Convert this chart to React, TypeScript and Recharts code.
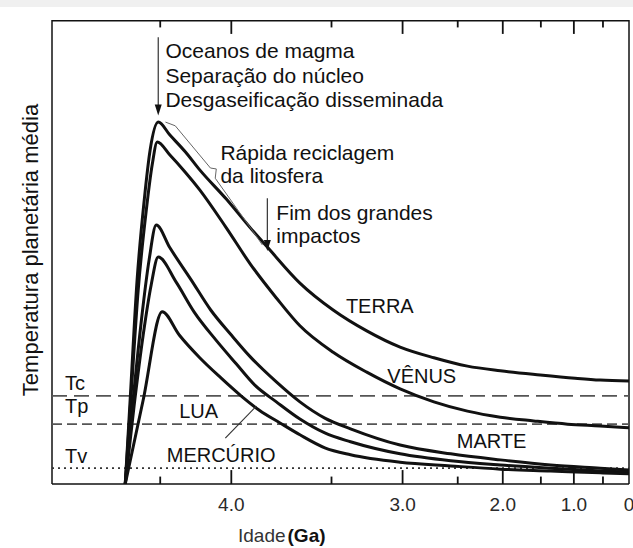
import { LineChart, Line, XAxis, YAxis, ReferenceLine, ReferenceDot } from "recharts";

const FONT = "'Liberation Sans', Arial, Helvetica, sans-serif";
const INK = "#111";
const DASH = "#555";

// o eixo de idade é logarítmico em (AGE_REF - idade)
const AGE_REF = 5;
const toT = (age: number) => AGE_REF - age;
const X_DOMAIN = [0.484, 5];
const Y_DOMAIN = [0, 100];

// idade (Ga) e temperatura relativa (0–100)
const terraAges = [4.349, 4.336, 4.317, 4.297, 4.28, 4.256, 4.22, 4.17, 4.12, 4.02, 3.92, 3.84, 3.68, 3.49, 3.27, 3.02, 2.73, 2.4, 2.03, 1.51, 0.98, 0.55, 0];
const terraTemps = [0, 18.1, 44.0, 61.2, 72.0, 78.0, 75.2, 71.6, 67.7, 61.4, 55.2, 50.9, 43.3, 37.5, 33.0, 29.5, 27.2, 25.4, 24.4, 23.5, 22.8, 22.4, 22.2];

const venusAges = [4.349, 4.336, 4.314, 4.291, 4.274, 4.259, 4.22, 4.17, 4.12, 4.02, 3.92, 3.8, 3.68, 3.49, 3.27, 3.02, 2.73, 2.4, 2.03, 1.6, 1.1, 0.55, 0];
const venusTemps = [0, 15.9, 41.8, 59.1, 68.8, 73.7, 70.9, 67.2, 63.4, 55.2, 47.4, 40.1, 34.1, 28.4, 24.1, 20.5, 17.7, 15.7, 14.4, 13.6, 12.9, 12.5, 12.1];

const marteAges = [4.349, 4.328, 4.305, 4.283, 4.262, 4.22, 4.15, 4.08, 4.0, 3.92, 3.8, 3.68, 3.54, 3.38, 3.02, 2.57, 2.03, 1.36, 0.55, 0];
const marteTemps = [0, 18.1, 35.3, 48.3, 55.8, 50.9, 44.0, 37.5, 32.1, 27.4, 22.0, 17.7, 14.2, 11.9, 8.4, 6.5, 5.2, 4.1, 3.4, 3.0];

const mercurioAges = [4.349, 4.325, 4.3, 4.277, 4.256, 4.2, 4.14, 4.06, 3.98, 3.9, 3.8, 3.68, 3.54, 3.38, 3.02, 2.57, 2.03, 1.36, 0.55, 0];
const mercurioTemps = [0, 17.0, 32.1, 42.9, 48.9, 43.5, 37.1, 31.0, 25.9, 21.3, 17.7, 14.0, 11.0, 9.1, 6.5, 5.0, 4.1, 3.4, 2.8, 2.6];

const luaAges = [4.349, 4.3, 4.244, 4.19, 4.12, 4.04, 3.96, 3.88, 3.78, 3.68, 3.54, 3.38, 3.02, 2.57, 2.03, 1.36, 0.55, 0];
const luaTemps = [0, 18.1, 37.1, 32.1, 27.2, 22.8, 19.0, 15.9, 13.1, 10.6, 7.8, 6.3, 4.7, 3.9, 3.2, 2.8, 2.4, 2.2];

const majorAges = [4, 3, 2, 1, 0];
const minorAges = [4.25, 3.5, 2.5, 1.5, 0.5];

const tempTc = 19.0;
const tempTp = 12.9;
const tempTv = 3.4;

// chave da "rápida reciclagem da litosfera"
const braceAges = [4.234, 4.203, 4.081, 4.059, 4.063, 3.893, 3.866];
const braceTemps = [78.0, 77.2, 68.1, 67.9, 65.9, 53.4, 51.5];

const series = [
  { name: "Terra", ages: terraAges, temps: terraTemps },
  { name: "Vênus", ages: venusAges, temps: venusTemps },
  { name: "Marte", ages: marteAges, temps: marteTemps },
  { name: "Mercúrio", ages: mercurioAges, temps: mercurioTemps },
  { name: "Lua", ages: luaAges, temps: luaTemps },
].map((s) => ({
  name: s.name,
  data: s.ages.map((a, i) => ({ t: toT(a), temp: s.temps[i] })),
}));

const notes = [
  { age: 4.234, temp: 91.8, lines: ["Oceanos de magma", "Separação do núcleo", "Desgaseificação disseminada"], gap: 24.5, size: 21 },
  { age: 4.043, temp: 69.8, lines: ["Rápida reciclagem", "da litosfera"], gap: 23, size: 21 },
  { age: 3.8, temp: 56.9, lines: ["Fim dos grandes", "impactos"], gap: 23, size: 21 },
  { age: 3.41, temp: 36.9, lines: ["TERRA"], gap: 0, size: 20 },
  { age: 3.12, temp: 21.8, lines: ["VÊNUS"], gap: 0, size: 20 },
  { age: 2.51, temp: 7.8, lines: ["MARTE"], gap: 0, size: 20 },
  { age: 4.19, temp: 14.2, lines: ["LUA"], gap: 0, size: 20 },
  { age: 4.23, temp: 4.7, lines: ["MERCÚRIO"], gap: 0, size: 20 },
  { age: 4.49, temp: 20.3, lines: ["Tc"], gap: 0, size: 20 },
  { age: 4.49, temp: 15.3, lines: ["Tp"], gap: 0, size: 20 },
  { age: 4.49, temp: 4.5, lines: ["Tv"], gap: 0, size: 20 },
];

// comprimento dos traços de escala, em unidades de temperatura
const MAJOR_LEN = 3.0;
const MINOR_LEN = 1.6;

const ageLabel = (t: number) => {
  const age = Math.round((AGE_REF - t) * 10) / 10;
  return age === 0 ? "0" : age.toFixed(1);
};

function BottomTick(props: any) {
  const { x, y, payload } = props;
  return (
    <text x={x} y={y + 27} textAnchor="middle" fontFamily={FONT} fontSize={19} fill="#2a2a2a">
      {ageLabel(payload.value)}
    </text>
  );
}

const arrowShape = (p: any) => (
  <g>
    <line x1={p.x1} y1={p.y1} x2={p.x2} y2={p.y2 - 4} stroke="#333" strokeWidth={1.2} />
    <path d={`M${p.x2},${p.y2} L${p.x2 - 3.5},${p.y2 - 11} L${p.x2 + 3.5},${p.y2 - 11} Z`} fill={INK} />
  </g>
);

const noteShape = (lines: string[], gap: number, size: number) => (p: any) => (
  <text x={p.cx} y={p.cy} fontFamily={FONT} fontSize={size} fill={INK}>
    {lines.map((l, i) => (
      <tspan key={i} x={p.cx} dy={i === 0 ? 0 : gap}>
        {l}
      </tspan>
    ))}
  </text>
);

const [yMin, yMax] = Y_DOMAIN;
const tickMarks = [
  ...majorAges.slice(0, -1).map((a) => ({ t: toT(a), len: MAJOR_LEN })),
  ...minorAges.map((a) => ({ t: toT(a), len: MINOR_LEN })),
];
// traços de escala e borda superior do quadro, desenhados como pequenas linhas nos eixos do gráfico
const tickPaths = tickMarks.flatMap((m) => [
  [{ t: m.t, temp: yMin }, { t: m.t, temp: yMin + m.len }],
  [{ t: m.t, temp: yMax }, { t: m.t, temp: yMax - m.len }],
]);
const topEdge = [{ t: X_DOMAIN[0], temp: yMax }, { t: X_DOMAIN[1], temp: yMax }];
const frameSegments = [
  [{ x: X_DOMAIN[0], y: yMin }, { x: X_DOMAIN[0], y: yMax }],
  [{ x: X_DOMAIN[1], y: yMin }, { x: X_DOMAIN[1], y: yMax }],
];

export default function App() {
  return (
    <div style={{ position: "fixed", top: 0, left: 0, width: 633, height: 548, background: "#fff" }}>
      <div style={{ position: "absolute", top: 0, left: 0, width: 633, height: 7, background: "#f0f0f0" }} />
      <LineChart width={633} height={548} margin={{ top: 20, right: 4, bottom: 24, left: 52 }}>
        <XAxis
          dataKey="t"
          type="number"
          scale="log"
          domain={X_DOMAIN}
          allowDataOverflow
          ticks={majorAges.map(toT)}
          interval={0}
          tick={(p: any) => <BottomTick {...p} />}
          tickSize={0}
          tickMargin={0}
          tickLine={false}
          height={40}
          axisLine={{ stroke: INK, strokeWidth: 1.5 }}
        />
        <YAxis type="number" domain={Y_DOMAIN} allowDataOverflow hide />

        {frameSegments.map((seg, i) => (
          <ReferenceLine key={`frame-${i}`} segment={seg} ifOverflow="visible" stroke={INK} strokeWidth={1.5} />
        ))}
        <Line
          data={topEdge}
          dataKey="temp"
          type="linear"
          stroke={INK}
          strokeWidth={3}
          dot={false}
          activeDot={false}
          legendType="none"
          isAnimationActive={false}
        />
        {tickPaths.map((d, i) => (
          <Line
            key={`tick-${i}`}
            data={d}
            dataKey="temp"
            type="linear"
            stroke={INK}
            strokeWidth={1.8}
            dot={false}
            activeDot={false}
            legendType="none"
            isAnimationActive={false}
          />
        ))}

        <ReferenceLine y={tempTc} stroke={DASH} strokeWidth={1.6} strokeDasharray="15 7" />
        <ReferenceLine y={tempTp} stroke={DASH} strokeWidth={1.6} strokeDasharray="10 5" />
        <ReferenceLine y={tempTv} stroke="#333" strokeWidth={1.8} strokeDasharray="2 4" />

        {series.map((s) => (
          <Line
            key={s.name}
            data={s.data}
            dataKey="temp"
            name={s.name}
            type="monotoneX"
            stroke={INK}
            strokeWidth={3}
            strokeLinejoin="round"
            dot={false}
            activeDot={false}
            isAnimationActive={false}
          />
        ))}

        <ReferenceLine segment={[{ x: toT(4.256), y: 96.3 }, { x: toT(4.256), y: 79.4 }]} shape={arrowShape} />
        <ReferenceLine segment={[{ x: toT(3.843), y: 61.6 }, { x: toT(3.843), y: 50.2 }]} shape={arrowShape} />
        <ReferenceLine segment={[{ x: toT(4.024), y: 9.9 }, { x: toT(3.893), y: 16.8 }]} stroke="#333" strokeWidth={1.2} />
        {braceAges.slice(1).map((a, i) => (
          <ReferenceLine
            key={`brace-${i}`}
            segment={[
              { x: toT(braceAges[i]), y: braceTemps[i] },
              { x: toT(a), y: braceTemps[i + 1] },
            ]}
            stroke="#666"
            strokeWidth={1}
          />
        ))}

        {notes.map((n, i) => (
          <ReferenceDot key={`note-${i}`} x={toT(n.age)} y={n.temp} r={1} shape={noteShape(n.lines, n.gap, n.size)} />
        ))}

        <text x={238} y={542} fontFamily={FONT} fontSize={19}>
          <tspan fill="#333">Idade</tspan>
          <tspan dx={2} fill={INK} fontWeight={700}>(Ga)</tspan>
        </text>
        <text transform="translate(38,250) rotate(-90)" textAnchor="middle" fontFamily={FONT} fontSize={22} fill={INK}>
          Temperatura planetária média
        </text>
      </LineChart>
    </div>
  );
}
